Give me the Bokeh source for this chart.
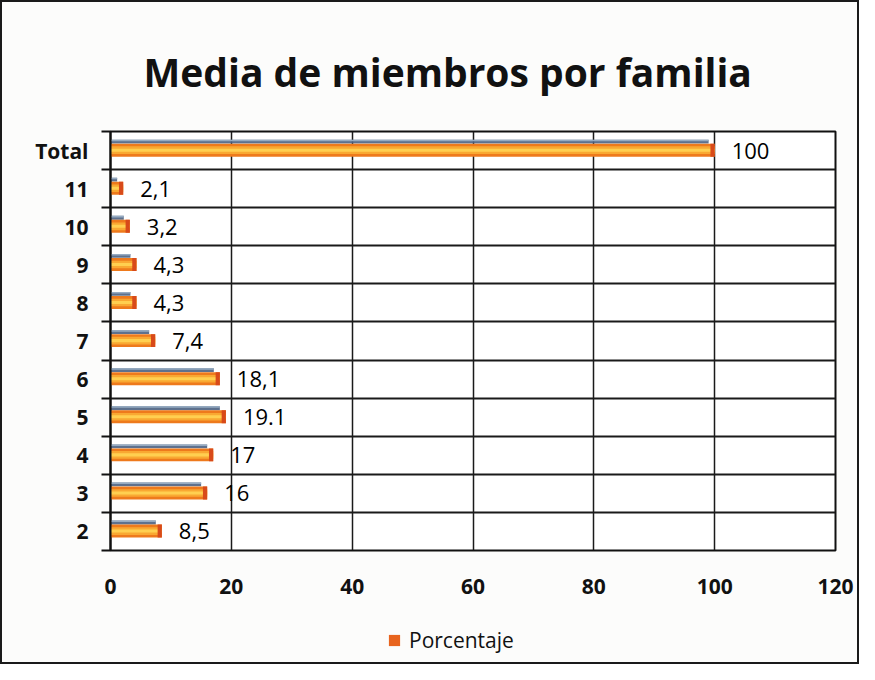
from bokeh.plotting import figure
from bokeh.layouts import column
from bokeh.models import FixedTicker, Legend, LegendItem, Range1d
from bokeh.embed import file_html
from bokeh.resources import INLINE
from bokeh.core.properties import value

# ---- data ----
categories = ["2", "3", "4", "5", "6", "7", "8", "9", "10", "11", "Total"]
values = [8.5, 16, 17, 19.1, 18.1, 7.4, 4.3, 4.3, 3.2, 2.1, 100]
labels = ["8,5", "16", "17", "19.1", "18,1", "7,4", "4,3", "4,3", "3,2", "2,1", "100"]
x_ticks = [0, 20, 40, 60, 80, 100, 120]
series_name = "Porcentaje"
title_text = "Media de miembros por familia"

FONT = "Open Sans"
BG = "#fcfcfb"
n = len(categories)
ypos = [i + 1 for i in range(n)]
boundaries = [i + 0.5 for i in range(n + 1)]

p = figure(width=855, height=606, output_backend="svg", toolbar_location=None,
           x_range=Range1d(0, 120), y_range=Range1d(0.5, n + 0.5),
           min_border_left=108, min_border_right=22, min_border_top=129,
           min_border_bottom=58)
p.background_fill_color = "white"
p.border_fill_color = BG
p.outline_line_color = "#111111"
p.outline_line_width = 2

# title
p.title.text = title_text
p.title.align = "left"
p.title.offset = 33
p.title.text_font = FONT
p.title.text_font_style = "bold"
p.title.text_font_size = "39px"
p.title.text_color = "#111111"
p.title.standoff = 67

# axes
xa = p.xaxis[0]
xa.ticker = FixedTicker(ticks=x_ticks)
xa.axis_line_color = None
xa.major_tick_line_color = None
xa.minor_tick_line_color = None
xa.major_label_standoff = 22
xa.major_label_text_font = FONT
xa.major_label_text_font_style = "bold"
xa.major_label_text_font_size = "21px"
xa.major_label_text_color = "#111111"

ya = p.yaxis[0]
ya.ticker = FixedTicker(ticks=ypos, minor_ticks=boundaries)
ya.major_label_overrides = {yv: c for yv, c in zip(ypos, categories)}
ya.axis_line_color = "#111111"
ya.axis_line_width = 2
ya.major_tick_line_color = None
ya.minor_tick_line_color = "#111111"
ya.minor_tick_line_width = 2
ya.minor_tick_out = 9
ya.minor_tick_in = 0
ya.major_label_standoff = 13
ya.major_label_text_font = FONT
ya.major_label_text_font_style = "bold"
ya.major_label_text_font_size = "21px"
ya.major_label_text_color = "#111111"

# grids
p.xgrid.ticker = FixedTicker(ticks=x_ticks)
p.xgrid.grid_line_color = "#1a1a1a"
p.xgrid.grid_line_width = 1.5
p.ygrid.ticker = FixedTicker(ticks=boundaries)
p.ygrid.grid_line_color = "#1a1a1a"
p.ygrid.grid_line_width = 1.8

# bars: grey-blue top strip (3D effect)
grey_right = [v - 1.0 if v > 2 else v * 0.5 for v in values]
y_grey = [y + 0.235 for y in ypos]
y_grey_top = [y + 0.265 for y in ypos]
p.hbar(y=y_grey, left=0, right=grey_right, height=0.1, fill_color="#4d6282",
       line_color=None, fill_alpha=0.9)
p.hbar(y=y_grey_top, left=0, right=grey_right, height=0.04, fill_color="#9cb1c8",
       line_color=None, fill_alpha=0.9)

# orange main bar with gradient layers
y_bar = [y + 0.01 for y in ypos]
p.hbar(y=y_bar, left=0, right=values, height=0.34, fill_color="#ee7a1c", line_color=None)
p.hbar(y=y_bar, left=0, right=values, height=0.2, fill_color="#f9a832", line_color=None)
p.hbar(y=y_bar, left=0, right=values, height=0.08, fill_color="#ffcf50", line_color=None)
cap_left = [v - 0.7 for v in values]
p.hbar(y=y_bar, left=cap_left, right=values, height=0.34, fill_color="#d84a1a",
       line_color=None)

# data labels
p.text(x=values, y=ypos, text=labels, x_offset=17, text_baseline="middle",
       text_align="left", text_font=value(FONT), text_font_size="22px",
       text_color="#000000")

# legend strip (separate small figure under the chart)
lg = figure(width=855, height=54, output_backend="svg", toolbar_location=None,
            x_axis_type=None, y_axis_type=None, x_range=Range1d(0, 1),
            y_range=Range1d(0, 1), min_border=0, outline_line_color=None)
lg.background_fill_color = BG
lg.border_fill_color = BG
lg.grid.visible = False
# zero-size swatch renderer; only its legend glyph shows
swatch = lg.hbar(y=[-5], left=[0], right=[0], height=0, fill_color="#e8641e",
                 line_color=None)
legend = Legend(items=[LegendItem(label=series_name, renderers=[swatch])],
                orientation="horizontal", location=(277, 8),
                border_line_color=None, background_fill_alpha=0,
                label_text_font=FONT, label_text_font_size="21px",
                label_text_color="#111111", glyph_width=14, glyph_height=14,
                label_standoff=8, padding=0, margin=0)
lg.add_layout(legend, "center")

layout = column(p, lg, spacing=0)
layout.styles = {"border": "2px solid #1a1a1a", "background-color": BG}

open("out.html", "w").write(file_html(layout, INLINE))
